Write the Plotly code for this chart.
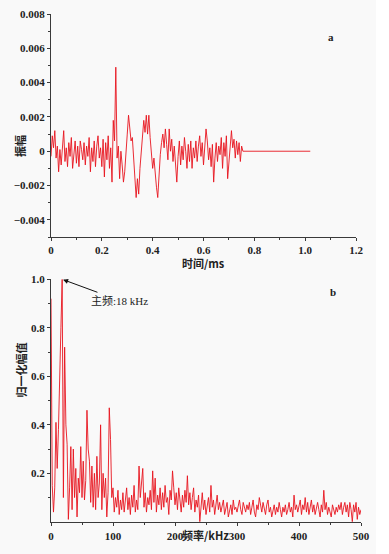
import numpy as np
import plotly.graph_objects as go

W, H = 389, 554

# ---- Data: time-domain signal (a) ----
t_step_ms = 0.005
amp_milli = [
    -0.3, 0.9, 0.2, 1.2, -0.4, 0.3, -1.2, 0.1, -0.8, 0.6,
    1.2, -0.6, 0.2, -0.9, 0.5, -0.3, 0.8, -1.0, 0.0, 0.6,
    -0.7, 0.3, -0.9, 0.6, 0.1, -0.5, 0.5, -0.8, 0.3, -0.3,
    0.8, -1.2, 0.2, -0.6, 0.6, -0.9, 0.3, 0.9, -0.4, 0.2,
    -0.9, 0.7, -1.5, 0.5, -0.5, 0.9, -1.0, 0.2, -1.8, 1.8,
    0.6, 4.9, -0.4, 0.3, -1.6, 0.0, -0.8, -1.8, -1.2, 0.2,
    1.0, 2.1, 1.4, 0.6, 0.8, -0.4, -1.2, -2.7, -1.6, -2.5,
    -1.0, 0.0, 0.6, 1.8, 1.1, 2.1, 1.0, 2.1, 0.8, 0.0,
    -1.0, -0.4, -1.5, -2.1, -2.7, -1.0, -0.2, 0.5, 1.0, 0.2,
    1.3, 0.4, -0.5, 1.3, 0.0, 0.7, -0.6, 0.3, -1.0, -1.8,
    -0.3, 0.6, -0.8, 0.3, -0.5, 0.8, 0.0, -1.0, 0.4, -0.6,
    0.6, -1.0, 0.2, -0.4, 0.6, -0.6, 0.3, 0.9, -0.3, 0.5,
    -0.8, 0.3, 1.3, 0.6, -0.5, 0.2, -0.9, 0.4, -1.8, -0.4,
    0.5, -0.6, 0.3, -0.2, 0.8, -1.0, 0.5, -0.3, 0.9, -1.6,
    -0.6, 0.6, 1.2, 0.2, 0.7, -0.4, 0.6, -0.2, 0.5, -0.6,
    0.3, 0.0,
]
tail_t = [0.76, 1.02]
tail_amp = [0.0, 0.0]

# ---- Data: normalized spectrum (b) ----
f_step_khz = 2
spec = [
    0.92, 0.15, 0.04, 0.14, 0.41, 0.22, 0.38, 0.55, 0.80, 1.00,
    0.10, 0.72, 0.40, 0.32, 0.01, 0.14, 0.31, 0.05, 0.30, 0.10,
    0.22, 0.02, 0.18, 0.12, 0.31, 0.10, 0.25, 0.09, 0.17, 0.46,
    0.30, 0.25, 0.08, 0.23, 0.06, 0.20, 0.05, 0.27, 0.10, 0.16,
    0.40, 0.05, 0.20, 0.10, 0.18, 0.02, 0.12, 0.47, 0.34, 0.10,
    0.14, 0.04, 0.10, 0.06, 0.13, 0.03, 0.09, 0.05, 0.12, 0.04,
    0.08, 0.14, 0.05, 0.10, 0.03, 0.11, 0.06, 0.15, 0.04, 0.09,
    0.05, 0.23, 0.10, 0.16, 0.22, 0.06, 0.12, 0.04, 0.10, 0.07,
    0.13, 0.05, 0.21, 0.08, 0.18, 0.04, 0.11, 0.07, 0.14, 0.05,
    0.12, 0.06, 0.15, 0.08, 0.10, 0.03, 0.13, 0.09, 0.21, 0.14,
    0.07, 0.12, 0.05, 0.14, 0.09, 0.04, 0.11, 0.06, 0.13, 0.08,
    0.19, 0.07, 0.12, 0.05, 0.10, 0.14, 0.04, 0.09, 0.06, 0.11,
    0.00, 0.08, 0.12, 0.05, 0.09, 0.03, 0.07, 0.10, 0.04, 0.15,
    0.06, 0.09, 0.03, 0.07, 0.11, 0.05, 0.08, 0.04, 0.06, 0.09,
    0.03, 0.06, 0.08, 0.02, 0.05, 0.07, 0.03, 0.09, 0.05, 0.06,
    0.04, 0.07, 0.09, 0.05, 0.03, 0.08, 0.06, 0.04, 0.07, 0.05,
    0.08, 0.03, 0.06, 0.09, 0.04, 0.02, 0.07, 0.05, 0.10, 0.06,
    0.04, 0.08, 0.05, 0.03, 0.07, 0.09, 0.04, 0.06, 0.02, 0.05,
    0.07, 0.03, 0.06, 0.04, 0.08, 0.05, 0.02, 0.06, 0.04, 0.07,
    0.03, 0.05, 0.08, 0.04, 0.06, 0.02, 0.11, 0.05, 0.07, 0.04,
    0.06, 0.09, 0.03, 0.07, 0.05, 0.10, 0.04, 0.08, 0.03, 0.06,
    0.09, 0.04, 0.07, 0.03, 0.06, 0.08, 0.05, 0.02, 0.07, 0.04,
    0.13, 0.05, 0.08, 0.03, 0.06, 0.04, 0.02, 0.07, 0.05, 0.03,
    0.06, 0.04, 0.07, 0.05, 0.08, 0.03, 0.06, 0.08, 0.04, 0.07,
    0.02, 0.08, 0.05, 0.00, 0.07, 0.04, 0.08, 0.01, 0.06, 0.03,
    0.05,
]
peak_freq = 18
peak_val = 1.0

# ticks
top_x_vals = [0, 0.2, 0.4, 0.6, 0.8, 1.0, 1.2]
top_x_text = ["0", "0.2", "0.4", "0.6", "0.8", "1.0", "1.2"]
top_y_vals = [-0.004, -0.002, 0, 0.002, 0.004, 0.006, 0.008]
top_y_text = ["\u22120.004", "\u22120.002", "0", "0.002", "0.004", "0.006", "0.008"]
bot_x_vals = [0, 100, 200, 300, 400, 500]
bot_x_text = ["0", "100", "200", "300", "400", "500"]
bot_y_vals = [0.2, 0.4, 0.6, 0.8, 1.0]
bot_y_text = ["0.2", "0.4", "0.6", "0.8", "1.0"]

t = np.arange(len(amp_milli)) * t_step_ms
amp = np.array(amp_milli) * 1e-3
t_all = np.concatenate([t, tail_t])
a_all = np.concatenate([amp, tail_amp])
f = np.arange(len(spec)) * f_step_khz

RED = "#e8141e"
AX = "#3a3a3a"
TICKFONT = dict(family="Liberation Serif", size=11, color="#222", weight="bold")
CJK = "Noto Sans CJK SC"


def px(x):
    return x / W


def py(y):
    return 1 - y / H


fig = go.Figure()
fig.add_trace(go.Scatter(x=t_all, y=a_all, mode="lines",
                         line=dict(color=RED, width=0.9), xaxis="x", yaxis="y",
                         showlegend=False, hoverinfo="skip"))
fig.add_trace(go.Scatter(x=f, y=spec, mode="lines",
                         line=dict(color=RED, width=0.9), xaxis="x2", yaxis="y2",
                         showlegend=False, hoverinfo="skip"))

common = dict(showline=True, linecolor=AX, linewidth=1.2, ticks="outside",
              ticklen=3, tickwidth=1, tickcolor=AX, showgrid=False,
              zeroline=False, tickfont=TICKFONT, automargin=False)

fig.update_layout(
    width=W, height=H,
    margin=dict(l=0, r=0, t=0, b=0, autoexpand=False),
    paper_bgcolor="white",
    plot_bgcolor="rgba(0,0,0,0)",
    xaxis=dict(domain=[px(51), px(356)], anchor="y", range=[0, 1.2],
               tickmode="array", tickvals=top_x_vals, ticktext=top_x_text,
               ticklabelstandoff=0,
               minor=dict(tickmode="array", tickvals=[0.1, 0.3, 0.5, 0.7, 0.9, 1.1],
                          ticks="outside", ticklen=2, tickcolor=AX),
               **common),
    yaxis=dict(domain=[py(237), py(14)], anchor="x", range=[-0.005, 0.008],
               tickmode="array", tickvals=top_y_vals, ticktext=top_y_text,
               minor=dict(tickmode="array",
                          tickvals=[-0.005, -0.003, -0.001, 0.001, 0.003, 0.005, 0.007],
                          ticks="outside", ticklen=2, tickcolor=AX),
               **common),
    xaxis2=dict(domain=[px(51), px(361)], anchor="y2", range=[0, 500],
                tickmode="array", tickvals=bot_x_vals, ticktext=bot_x_text,
                ticklabelstandoff=1,
                minor=dict(tickmode="array", tickvals=[50, 150, 250, 350, 450],
                           ticks="outside", ticklen=2, tickcolor=AX),
                **common),
    yaxis2=dict(domain=[py(521.8), py(279.3)], anchor="x2", range=[0, 1.0],
                tickmode="array", tickvals=bot_y_vals, ticktext=bot_y_text,
                minor=dict(tickmode="array", tickvals=[0.1, 0.3, 0.5, 0.7, 0.9],
                           ticks="outside", ticklen=2, tickcolor=AX),
                **common),
    shapes=[dict(type="rect", xref="paper", yref="paper", x0=0, x1=px(376),
                 y0=0, y1=1, fillcolor="#f9f9f9", line=dict(width=0), layer="below")],
)

title_font = dict(family=CJK, size=11, color="#222", weight="bold")
ann = [
    dict(text="时间/ms", x=px(203), y=py(263), xref="paper", yref="paper",
         showarrow=False, font=title_font, borderpad=0),
    dict(text="频率/kHz", x=px(205), y=py(544), xref="paper", yref="paper",
         showarrow=False, font=title_font, borderpad=0),
    dict(text="振幅", x=px(10), y=py(133), xref="paper", yref="paper",
         showarrow=False, textangle=-90, font=title_font),
    dict(text="归一化幅值", x=px(10), y=py(400), xref="paper", yref="paper",
         showarrow=False, textangle=-90, font=title_font),
    dict(text="a", x=px(336), y=py(29), xref="paper", yref="paper",
         showarrow=False, font=dict(family="Liberation Serif", size=11, color="#222", weight="bold")),
    dict(text="b", x=px(338), y=py(292), xref="paper", yref="paper",
         showarrow=False, font=dict(family="Liberation Serif", size=11, color="#222", weight="bold")),
    dict(text="主频:18 kHz", x=peak_freq, y=peak_val, xref="x2", yref="y2",
         showarrow=True, arrowhead=2, arrowsize=1, arrowwidth=1, arrowcolor="#111",
         ax=57, ay=21, standoff=1,
         font=dict(family="Liberation Serif, Noto Sans CJK SC", size=11, color="#222")),
]
fig.update_layout(annotations=ann)

fig.write_html("out.html",
               config={"displayModeBar": False},
               post_script="document.body.style.margin='0';document.body.style.overflow='hidden';")
